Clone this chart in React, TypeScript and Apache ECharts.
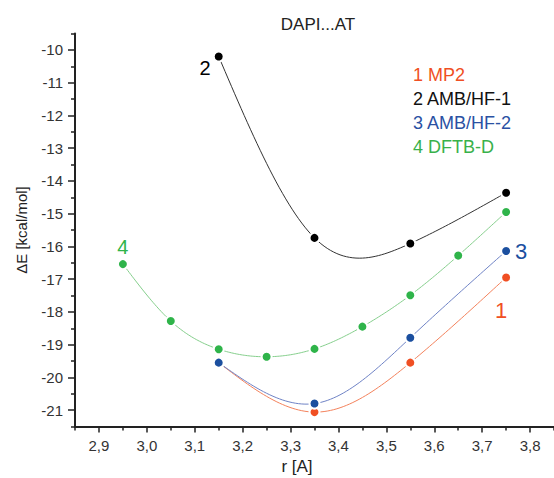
import React, { useEffect, useRef } from 'react';
import * as echarts from 'echarts';

const FONT = '"Liberation Sans", Arial, Helvetica, sans-serif';

const titleText = 'DAPI...AT';
const xName = 'r [A]';
const yName = 'ΔE [kcal/mol]';
const seriesNames = ['1 MP2', '2 AMB/HF-1', '3 AMB/HF-2', '4 DFTB-D'];
const curveTags = ['1', '2', '3', '4'];

const mp2X = [3.15, 3.35, 3.55, 3.75];
const mp2Y = [-19.55, -21.06, -19.55, -16.95];
const hf1X = [3.15, 3.35, 3.55, 3.75];
const hf1Y = [-10.2, -15.74, -15.91, -14.36];
const hf2X = [3.15, 3.35, 3.55, 3.75];
const hf2Y = [-19.55, -20.8, -18.79, -16.14];
const dftbX = [2.95, 3.05, 3.15, 3.25, 3.35, 3.45, 3.55, 3.65, 3.75];
const dftbY = [-16.54, -18.28, -19.14, -19.37, -19.13, -18.45, -17.49, -16.28, -14.95];

const xMajorTicks = [2.9, 3.0, 3.1, 3.2, 3.3, 3.4, 3.5, 3.6, 3.7, 3.8];
const xMinorTicks = [2.85, 2.95, 3.05, 3.15, 3.25, 3.35, 3.45, 3.55, 3.65, 3.75, 3.85];
const yMajorTicks = [-21, -20, -19, -18, -17, -16, -15, -14, -13, -12, -11, -10];
const yMinorTicks = [-21.5, -20.5, -19.5, -18.5, -17.5, -16.5, -15.5, -14.5, -13.5, -12.5, -11.5, -10.5, -9.5];

const X_MIN = 2.85;
const X_MAX = 3.85;
const Y_MIN = -21.5;
const Y_MAX = -9.5;

const RED = '#f04f23';
const RED_LINE = '#f4825c';
const BLACK = '#000000';
const BLACK_LINE = '#333333';
const BLUE = '#1b4f9f';
const BLUE_LINE = '#6f83c6';
const GREEN = '#2fb44a';
const GREEN_LINE = '#85cf8c';
const AXIS = '#222222';

function zip(xs: number[], ys: number[]) {
  return xs.map((x, i) => [x, ys[i]]);
}

// Natural cubic spline through the measured points (how the curve is drawn).
function splineCurve(xs: number[], ys: number[], samples = 30): number[][] {
  const n = xs.length;
  if (n < 3) return zip(xs, ys);
  const h: number[] = [];
  for (let i = 0; i < n - 1; i++) h.push(xs[i + 1] - xs[i]);
  const m = n - 2;
  const a: number[] = [], b: number[] = [], c: number[] = [], d: number[] = [];
  for (let i = 1; i <= m; i++) {
    a.push(h[i - 1]);
    b.push(2 * (h[i - 1] + h[i]));
    c.push(h[i]);
    d.push(6 * ((ys[i + 1] - ys[i]) / h[i] - (ys[i] - ys[i - 1]) / h[i - 1]));
  }
  for (let i = 1; i < m; i++) {
    const w = a[i] / b[i - 1];
    b[i] -= w * c[i - 1];
    d[i] -= w * d[i - 1];
  }
  const inner: number[] = new Array(m).fill(0);
  inner[m - 1] = d[m - 1] / b[m - 1];
  for (let i = m - 2; i >= 0; i--) inner[i] = (d[i] - c[i] * inner[i + 1]) / b[i];
  const M = [0, ...inner, 0];
  const out: number[][] = [];
  for (let i = 0; i < n - 1; i++) {
    const last = i === n - 2 ? samples : samples - 1;
    for (let k = 0; k <= last; k++) {
      const t = xs[i] + (h[i] * k) / samples;
      const A = (xs[i + 1] - t) / h[i];
      const B = (t - xs[i]) / h[i];
      const y =
        A * ys[i] + B * ys[i + 1] + ((A * A * A - A) * M[i] + (B * B * B - B) * M[i + 1]) * (h[i] * h[i]) / 6;
      out.push([t, y]);
    }
  }
  return out;
}

function tagLabel(text: string, color: string, fontSize: number, extra: any) {
  return {
    show: true,
    formatter: text,
    color,
    fontSize,
    fontFamily: FONT,
    ...extra,
  };
}

export default function App() {
  const ref = useRef<HTMLDivElement>(null);
  useEffect(() => {
    if (!ref.current) return;
    const chart = echarts.init(ref.current, undefined, { renderer: 'svg' });

    const mp2Data: any[] = zip(mp2X, mp2Y);
    mp2Data[mp2Data.length - 1] = {
      value: mp2Data[mp2Data.length - 1],
      label: tagLabel(curveTags[0], RED, 22, { position: 'bottom', distance: 16, offset: [-5, 0] }),
    };
    const hf1Data: any[] = zip(hf1X, hf1Y);
    hf1Data[0] = {
      value: hf1Data[0],
      label: tagLabel(curveTags[1], BLACK, 20, { position: 'left', distance: 2, offset: [0, 11] }),
    };
    const hf2Data: any[] = zip(hf2X, hf2Y);
    hf2Data[hf2Data.length - 1] = {
      value: hf2Data[hf2Data.length - 1],
      label: tagLabel(curveTags[2], BLUE, 22, { position: 'right', distance: 3 }),
    };
    const dftbData: any[] = zip(dftbX, dftbY);
    dftbData[0] = {
      value: dftbData[0],
      label: tagLabel(curveTags[3], GREEN, 20, { position: 'top', distance: 1 }),
    };

    const axisLineStyle = { color: AXIS, width: 2 };
    const tickStyle = { color: AXIS, width: 1.5 };

    const mkCurve = (xs: number[], ys: number[], lineColor: string) => {
      const curve = splineCurve(xs, ys);
      return {
        type: 'custom',
        data: zip(xs, ys),
        encode: { x: 0, y: 1 },
        silent: true,
        z: 2,
        renderItem: (params: any, api: any) => {
          if (params.dataIndex !== 0) return null;
          const pts = curve.map((p) => api.coord(p));
          return {
            type: 'polyline',
            shape: { points: pts },
            style: { stroke: lineColor, lineWidth: 1, fill: 'none' },
            silent: true,
          };
        },
      };
    };

    const mkPoints = (name: string, data: any[], color: string) => ({
      name,
      type: 'scatter',
      data,
      symbol: 'circle',
      symbolSize: 10,
      itemStyle: { color, borderColor: '#ffffff', borderWidth: 2, opacity: 1 },
      silent: true,
      z: 3,
      emphasis: { disabled: true },
    });

    chart.setOption({
      animation: false,
      backgroundColor: '#ffffff',
      title: {
        text: titleText,
        left: 313,
        top: 11,
        textAlign: 'center',
        textStyle: { fontFamily: FONT, fontSize: 17, fontWeight: 'normal', color: '#222' },
      },
      legend: {
        orient: 'vertical',
        left: 403,
        top: 61,
        icon: 'none',
        itemWidth: 0,
        itemHeight: 14,
        itemGap: 6,
        selectedMode: false,
        textStyle: { fontFamily: FONT, fontSize: 18, lineHeight: 18 },
        data: [
          { name: seriesNames[0], textStyle: { color: RED } },
          { name: seriesNames[1], textStyle: { color: '#111' } },
          { name: seriesNames[2], textStyle: { color: '#2a51a3' } },
          { name: seriesNames[3], textStyle: { color: '#38b14a' } },
        ],
      },
      grid: { left: 75, top: 33.6, right: -3, bottom: 51.5 },
      xAxis: [
        {
          type: 'value',
          position: 'bottom',
          min: X_MIN,
          max: X_MAX,
          axisLine: { show: true, lineStyle: axisLineStyle },
          axisTick: { show: true, length: 6, lineStyle: tickStyle, customValues: xMajorTicks },
          axisLabel: {
            customValues: xMajorTicks,
            margin: 11,
            fontFamily: FONT,
            fontSize: 15,
            color: '#333',
            formatter: (v: number) => v.toFixed(1).replace('.', ','),
          },
          splitLine: { show: false },
        },
        {
          type: 'value',
          position: 'bottom',
          min: X_MIN,
          max: X_MAX,
          axisLine: { show: false },
          axisTick: { show: true, length: 4, lineStyle: tickStyle, customValues: xMinorTicks },
          axisLabel: { show: false },
          splitLine: { show: false },
        },
      ],
      yAxis: [
        {
          type: 'value',
          position: 'left',
          min: Y_MIN,
          max: Y_MAX,
          name: yName,
          nameLocation: 'middle',
          nameGap: 46,
          nameTextStyle: { fontFamily: FONT, fontSize: 15, color: '#222' },
          axisLine: { show: true, lineStyle: axisLineStyle },
          axisTick: { show: true, length: 7, lineStyle: tickStyle, customValues: yMajorTicks },
          axisLabel: {
            customValues: yMajorTicks,
            margin: 12,
            fontFamily: FONT,
            fontSize: 15,
            color: '#333',
          },
          splitLine: { show: false },
        },
        {
          type: 'value',
          position: 'left',
          min: Y_MIN,
          max: Y_MAX,
          axisLine: { show: false },
          axisTick: { show: true, length: 4, lineStyle: tickStyle, customValues: yMinorTicks },
          axisLabel: { show: false },
          splitLine: { show: false },
        },
      ],
      graphic: [
        {
          type: 'text',
          x: 297,
          y: 466,
          style: {
            text: xName,
            fontFamily: FONT,
            fontSize: 17,
            fill: '#222',
            textAlign: 'center',
            textVerticalAlign: 'middle',
          },
        },
      ],
      series: [
        mkCurve(mp2X, mp2Y, RED_LINE),
        mkCurve(hf2X, hf2Y, BLUE_LINE),
        mkCurve(dftbX, dftbY, GREEN_LINE),
        mkCurve(hf1X, hf1Y, BLACK_LINE),
        mkPoints(seriesNames[0], mp2Data, RED),
        mkPoints(seriesNames[2], hf2Data, BLUE),
        mkPoints(seriesNames[3], dftbData, GREEN),
        mkPoints(seriesNames[1], hf1Data, BLACK),
      ],
    });

    return () => chart.dispose();
  }, []);

  return (
    <div
      ref={ref}
      style={{ position: 'fixed', left: 0, top: 0, width: 554, height: 478, background: '#fff' }}
    />
  );
}
